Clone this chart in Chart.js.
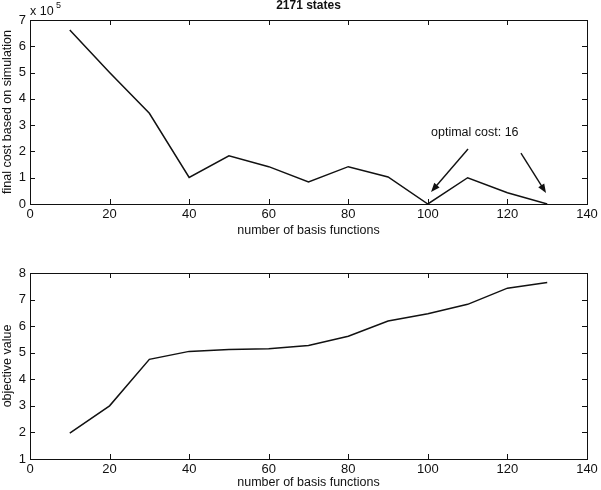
<!DOCTYPE html>
<html>
<head>
<meta charset="utf-8">
<script src="https://cdn.jsdelivr.net/npm/chart.js@4.4.1/dist/chart.umd.min.js"></script>
<style>
  html, body { margin: 0; padding: 0; background: #fff; }
  #wrap { position: relative; width: 601px; height: 490px; }
  .box { position: absolute; left: 0; width: 601px; height: 245px; }
  #topBox { top: 0; }
  #botBox { top: 245px; }
</style>
</head>
<body>
<div id="wrap">
  <div class="box" id="topBox"><canvas id="costChart" width="601" height="245"></canvas></div>
  <div class="box" id="botBox"><canvas id="objChart" width="601" height="245"></canvas></div>
</div>
<script>
// number of basis functions
const basisCounts = [10, 20, 30, 40, 50, 60, 70, 80, 90, 100, 110, 120, 130];
// final cost based on simulation (raw units, axis shows x 10^5)
const finalCost = [662000, 500000, 345000, 101000, 183000, 142000, 84000, 142000, 103000, 16, 100000, 43000, 16];
// objective value
const objectiveValue = [1.97, 3.0, 4.75, 5.05, 5.12, 5.15, 5.27, 5.62, 6.19, 6.47, 6.82, 7.43, 7.64];

const FONT = "'Liberation Sans', Arial, Helvetica, sans-serif";
const INK = '#111';

const toPoints = (xs, ys) => xs.map((x, i) => ({ x, y: ys[i] }));

// MATLAB-like frame: box plus inward ticks on all four sides
const framePlugin = {
  id: 'frame',
  afterDraw(chart) {
    const { ctx, chartArea: { left, right, top, bottom }, scales: { x, y } } = chart;
    const len = 5;
    ctx.save();
    ctx.strokeStyle = INK;
    ctx.lineWidth = 1;
    ctx.strokeRect(left + 0.5, top + 0.5, right - left, bottom - top);
    ctx.beginPath();
    x.ticks.forEach(t => {
      const px = Math.round(x.getPixelForValue(t.value)) + 0.5;
      ctx.moveTo(px, bottom); ctx.lineTo(px, bottom - len);
      ctx.moveTo(px, top); ctx.lineTo(px, top + len);
    });
    y.ticks.forEach(t => {
      const py = Math.round(y.getPixelForValue(t.value)) + 0.5;
      ctx.moveTo(left, py); ctx.lineTo(left + len, py);
      ctx.moveTo(right, py); ctx.lineTo(right - len, py);
    });
    ctx.stroke();
    ctx.restore();
  }
};

// title, exponent label and arrows for the top plot
const notesPlugin = {
  id: 'notes',
  afterDraw(chart, args, opts) {
    const { ctx, chartArea, scales: { x, y } } = chart;
    ctx.save();
    ctx.fillStyle = INK;
    ctx.strokeStyle = INK;
    if (opts.title) {
      ctx.font = `bold 12px ${FONT}`;
      ctx.textAlign = 'center';
      ctx.textBaseline = 'alphabetic';
      ctx.fillText(opts.title, (chartArea.left + chartArea.right) / 2, 9);
    }
    if (opts.exponent) {
      ctx.font = `12.5px ${FONT}`;
      ctx.textAlign = 'left';
      ctx.fillText('x 10', chartArea.left, 15);
      ctx.font = `9px ${FONT}`;
      ctx.fillText(opts.exponent, chartArea.left + 26, 8);
    }
    if (opts.label) {
      ctx.font = `12.5px ${FONT}`;
      ctx.textAlign = 'center';
      ctx.textBaseline = 'middle';
      ctx.fillText(opts.label.text, x.getPixelForValue(opts.label.x), y.getPixelForValue(opts.label.y));
    }
    (opts.arrows || []).forEach(a => {
      const x0 = x.getPixelForValue(a.from[0]), y0 = y.getPixelForValue(a.from[1]);
      const x1 = x.getPixelForValue(a.to[0]), y1 = y.getPixelForValue(a.to[1]);
      const ang = Math.atan2(y1 - y0, x1 - x0);
      const hl = 9, hw = 3.5;
      ctx.lineWidth = 1.4;
      ctx.beginPath();
      ctx.moveTo(x0, y0);
      ctx.lineTo(x1 - Math.cos(ang) * hl * 0.8, y1 - Math.sin(ang) * hl * 0.8);
      ctx.stroke();
      ctx.beginPath();
      ctx.moveTo(x1, y1);
      ctx.lineTo(x1 - Math.cos(ang) * hl - Math.sin(ang) * hw, y1 - Math.sin(ang) * hl + Math.cos(ang) * hw);
      ctx.lineTo(x1 - Math.cos(ang) * hl + Math.sin(ang) * hw, y1 - Math.sin(ang) * hl - Math.cos(ang) * hw);
      ctx.closePath();
      ctx.fill();
    });
    ctx.restore();
  }
};

function makeOptions({ yMin, yMax, yTitle, yTickFmt, padTop, padBottom, xAxisHeight, notes }) {
  return {
    responsive: false,
    animation: false,
    layout: { padding: { top: padTop, right: 14, left: 0, bottom: padBottom } },
    plugins: { legend: { display: false }, tooltip: { enabled: false }, notes },
    scales: {
      x: {
        type: 'linear', min: 0, max: 140,
        afterFit(scale) { scale.height = xAxisHeight; },
        grid: { display: false, drawTicks: false },
        border: { display: false },
        ticks: { stepSize: 20, color: INK, font: { family: FONT, size: 13 }, padding: 3, maxRotation: 0 },
        title: { display: true, text: 'number of basis functions', color: INK, font: { family: FONT, size: 12.5 }, padding: { top: 0, bottom: 0 } }
      },
      y: {
        type: 'linear', min: yMin, max: yMax,
        afterFit(scale) { scale.width = 30; },
        grid: { display: false, drawTicks: false },
        border: { display: false },
        ticks: { stepSize: yTickFmt ? 100000 : 1, color: INK, font: { family: FONT, size: 13 }, padding: 4,
          callback: v => yTickFmt ? yTickFmt(v) : v },
        title: { display: true, text: yTitle, color: INK, font: { family: FONT, size: 12.5 }, padding: { top: 0, bottom: 0 } }
      }
    }
  };
}

const lineStyle = { borderColor: INK, borderWidth: 1.5, pointRadius: 0, fill: false, tension: 0 };

new Chart(document.getElementById('costChart'), {
  type: 'line',
  data: { datasets: [{ data: toPoints(basisCounts, finalCost), ...lineStyle }] },
  options: makeOptions({
    yMin: 0, yMax: 700000,
    yTitle: 'final cost based on simulation',
    yTickFmt: v => v / 100000,
    padTop: 20, padBottom: 7, xAxisHeight: 34,
    notes: {
      title: '2171 states',
      exponent: '5',
      label: { text: 'optimal cost: 16', x: 111.8, y: 270000 },
      arrows: [
        { from: [110.1, 209000], to: [100.8, 46000] },
        { from: [123.4, 194000], to: [129.7, 42000] }
      ]
    }
  }),
  plugins: [framePlugin, notesPlugin]
});

new Chart(document.getElementById('objChart'), {
  type: 'line',
  data: { datasets: [{ data: toPoints(basisCounts, objectiveValue), ...lineStyle }] },
  options: makeOptions({
    yMin: 1, yMax: 8,
    yTitle: 'objective value',
    padTop: 28, padBottom: 0, xAxisHeight: 31,
    notes: {}
  }),
  plugins: [framePlugin, notesPlugin]
});
</script>
</body>
</html>
